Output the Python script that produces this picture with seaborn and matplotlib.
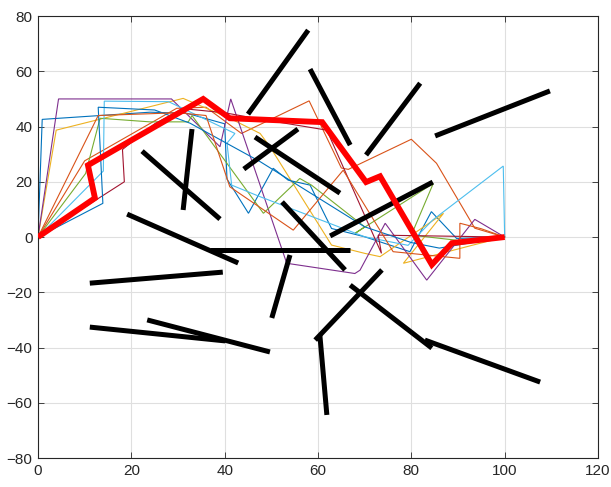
import numpy as np
import pandas as pd
import matplotlib
matplotlib.use("Agg")
import matplotlib.pyplot as plt
import seaborn as sns

# ---- thin candidate paths (x, y) ----
path_blue1_x = [0, 0.9, 24, 31.9, 40, 40.5, 45.1, 50.4, 53.6, 58.3, 62.9, 70, 79.7, 84.3, 89.7, 100]
path_blue1_y = [0, 42.6, 45.2, 44.8, 41, 21, 8.6, 24.9, 20.6, 18.8, 3.1, 0.1, -5.3, 9.2, -0.5, 0]
path_orange1_x = [0, 10, 29.7, 36, 43.6, 58.1, 65, 66.5, 80, 85.4, 93.6, 100]
path_orange1_y = [0, 27.6, 46.6, 47, 37.5, 49.3, 25, 24.5, 35.4, 26.7, 3.2, 0]
path_yellow_x = [0, 3.9, 31.1, 41.1, 47.6, 49.7, 62.9, 70, 73.3, 86.9, 78.3, 93, 100]
path_yellow_y = [0, 38.7, 50.2, 43, 37.5, 32.7, -2.9, -5.9, -7.1, 8.6, -9.5, -3, 0]
path_purple_x = [0, 4.4, 28.6, 31, 39, 41.3, 53.3, 67.9, 69, 74.4, 83.3, 93.6, 100]
path_purple_y = [0, 50, 50, 46, 32.7, 50, -9.5, -13.2, -12, 5, -15.6, 6.4, 0]
path_green_x = [0, 10.2, 13.3, 24, 32.2, 33, 48.3, 56.1, 58.6, 70, 67.9, 84.7, 80, 92.6, 100]
path_green_y = [0, 23, 43, 41.7, 41.7, 44, 8.6, 21.2, 18.8, 3.7, 1.3, 19.4, 0.7, -1.7, 0]
path_lblue_x = [0, 14, 14.2, 28, 42.2, 40.5, 41.5, 47.6, 70, 79.3, 84.6, 99.7, 100]
path_lblue_y = [0, 23.9, 49.2, 49, 37.5, 34, 18.8, 14.6, 0.1, -3, 6.2, 25.7, 0]
path_dred_x = [0, 18.5, 18.1, 25, 31, 40, 46.5, 61.9, 73.6, 72.9, 100]
path_dred_y = [0, 20, 31.7, 41, 46.5, 45, 43, 38.7, -5.9, 0.7, 0]
path_blue2_x = [0, 13.9, 12.9, 25, 32.6, 47.6, 70, 80, 86, 100]
path_blue2_y = [0, 12.2, 47, 46, 41.2, 27.3, 3.7, -2, -4, 0]
path_orange2_x = [0, 12.9, 30, 36, 41.1, 54.7, 65.4, 76.1, 90.4, 90.4, 95, 100]
path_orange2_y = [0, 44, 45, 44, 18.2, 2.5, 24.2, -5.3, -7.7, 5, 3, 0]

# ---- best path (thick red) ----
best_x = [0, 12.2, 10.7, 35.4, 41.1, 60.9, 70.3, 73.3, 84.4, 88.7, 100]
best_y = [0, 14.1, 26, 50, 43, 41.6, 19.9, 22, -10, -2.2, 0]

# ---- obstacles (thick black segments): x1, y1, x2, y2 ----
obs_x1 = [45, 58.3, 70.3, 85.1, 22.3, 33, 44.1, 46.5, 62.6, 19.1, 36.9, 52.3, 11.1, 54, 11.1, 23.4, 59.4, 60.4, 66.9, 82.9]
obs_y1 = [44.5, 60.8, 29.7, 36.6, 31.1, 39.1, 24.6, 36.2, 0.4, 8.3, -4.7, 12.7, -16.7, -6.5, -32.6, -30, -37.3, -35.5, -17.4, -37.3]
obs_x2 = [57.9, 66.9, 81.9, 109.7, 39, 31.1, 55.7, 64.7, 84.6, 42.9, 66.9, 65.8, 39.6, 50.1, 40.1, 49.7, 73.7, 61.9, 84.4, 107.6]
obs_y2 = [74.9, 33.3, 55.7, 52.9, 6.5, 9.8, 39.1, 15.9, 19.9, -9.4, -4.7, -11.9, -12.7, -29.3, -37.6, -41.6, -11.9, -64.4, -40.2, -52.5]

xticks = [0, 20, 40, 60, 80, 100, 120]
yticks = [-80, -60, -40, -20, 0, 20, 40, 60, 80]

paths = [
    ("p1", path_blue1_x, path_blue1_y, "#0072BD"),
    ("p2", path_orange1_x, path_orange1_y, "#D95319"),
    ("p3", path_yellow_x, path_yellow_y, "#EDB120"),
    ("p4", path_purple_x, path_purple_y, "#7E2F8E"),
    ("p5", path_green_x, path_green_y, "#77AC30"),
    ("p6", path_lblue_x, path_lblue_y, "#4DBEEE"),
    ("p7", path_dred_x, path_dred_y, "#A2142F"),
    ("p8", path_blue2_x, path_blue2_y, "#0072BD"),
    ("p9", path_orange2_x, path_orange2_y, "#D95319"),
]

rows = []
for name, xs, ys, _ in paths:
    for i, (a, b) in enumerate(zip(xs, ys)):
        rows.append({"x": a, "y": b, "path": name, "order": i})
df_paths = pd.DataFrame(rows)
palette = {name: c for name, _, _, c in paths}

orows = []
for k in range(len(obs_x1)):
    orows.append({"x": obs_x1[k], "y": obs_y1[k], "seg": k})
    orows.append({"x": obs_x2[k], "y": obs_y2[k], "seg": k})
df_obs = pd.DataFrame(orows)

df_best = pd.DataFrame({"x": best_x, "y": best_y})

sns.set_style("whitegrid")
plt.rcParams["font.family"] = ["Liberation Sans", "DejaVu Sans"]

fig = plt.figure(figsize=(6.11, 4.87), dpi=100)
ax = fig.add_axes([0.0622, 0.0595, 0.9165, 0.9075])

sns.lineplot(data=df_paths, x="x", y="y", hue="path", units="path", estimator=None,
             sort=False, palette=palette, linewidth=0.8, legend=False, ax=ax, zorder=2,
             solid_joinstyle="miter")
sns.lineplot(data=df_obs, x="x", y="y", units="seg", estimator=None, sort=False,
             color="black", linewidth=3.6, legend=False, ax=ax, zorder=3,
             solid_capstyle="butt")
sns.lineplot(data=df_best, x="x", y="y", sort=False, color="#FF0000",
             linewidth=4.2, legend=False, ax=ax, zorder=4,
             solid_joinstyle="miter", solid_capstyle="butt")

ax.set_xlim(0, 120)
ax.set_ylim(-80, 80)
ax.set_xticks(xticks)
ax.set_yticks(yticks)
ax.set_xlabel("")
ax.set_ylabel("")
ax.set_facecolor("white")
ax.grid(True, color="#DFDFDF", linewidth=0.8)
ax.set_axisbelow(True)
for s in ax.spines.values():
    s.set_color("#262626")
    s.set_linewidth(0.8)
ax.tick_params(axis="both", direction="in", length=4, width=0.6, color="#262626",
               labelsize=11, labelcolor="#262626", pad=4,
               top=True, right=True, bottom=True, left=True)

fig.savefig("out.png", dpi=100)
